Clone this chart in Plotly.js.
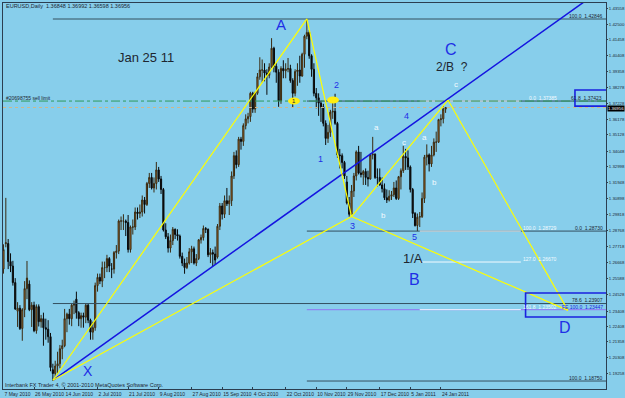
<!DOCTYPE html>
<html>
<head>
<meta charset="utf-8">
<script src="https://cdn.plot.ly/plotly-3.0.1.min.js"></script>
<style>html,body{margin:0;padding:0;background:#87ceeb;}#chart{width:625px;height:398px;}</style>
</head>
<body>
<div id="chart"></div>
<script>
// ---------- DATA ----------
const dates = [
"2010-05-07","2010-05-10","2010-05-11","2010-05-12","2010-05-13","2010-05-14","2010-05-17","2010-05-18","2010-05-19","2010-05-20","2010-05-21","2010-05-24","2010-05-25","2010-05-26","2010-05-27","2010-05-28","2010-05-31",
"2010-06-01","2010-06-02","2010-06-03","2010-06-04","2010-06-07","2010-06-08","2010-06-09","2010-06-10","2010-06-11","2010-06-14","2010-06-15","2010-06-16","2010-06-17","2010-06-18","2010-06-21","2010-06-22","2010-06-23","2010-06-24","2010-06-25","2010-06-28","2010-06-29","2010-06-30",
"2010-07-01","2010-07-02","2010-07-05","2010-07-06","2010-07-07","2010-07-08","2010-07-09","2010-07-12","2010-07-13","2010-07-14","2010-07-15","2010-07-16","2010-07-19","2010-07-20","2010-07-21","2010-07-22","2010-07-23","2010-07-26","2010-07-27","2010-07-28","2010-07-29","2010-07-30",
"2010-08-02","2010-08-03","2010-08-04","2010-08-05","2010-08-06","2010-08-09","2010-08-10","2010-08-11","2010-08-12","2010-08-13","2010-08-16","2010-08-17","2010-08-18","2010-08-19","2010-08-20","2010-08-23","2010-08-24","2010-08-25","2010-08-26","2010-08-27","2010-08-30","2010-08-31",
"2010-09-01","2010-09-02","2010-09-03","2010-09-06","2010-09-07","2010-09-08","2010-09-09","2010-09-10","2010-09-13","2010-09-14","2010-09-15","2010-09-16","2010-09-17","2010-09-20","2010-09-21","2010-09-22","2010-09-23","2010-09-24","2010-09-27","2010-09-28","2010-09-29","2010-09-30",
"2010-10-01","2010-10-04","2010-10-05","2010-10-06","2010-10-07","2010-10-08","2010-10-11","2010-10-12","2010-10-13","2010-10-14","2010-10-15","2010-10-18","2010-10-19","2010-10-20","2010-10-21","2010-10-22","2010-10-25","2010-10-26","2010-10-27","2010-10-28","2010-10-29",
"2010-11-01","2010-11-02","2010-11-03","2010-11-04","2010-11-05","2010-11-08","2010-11-09","2010-11-10","2010-11-11","2010-11-12","2010-11-15","2010-11-16","2010-11-17","2010-11-18","2010-11-19","2010-11-22","2010-11-23","2010-11-24","2010-11-25","2010-11-26","2010-11-29","2010-11-30",
"2010-12-01","2010-12-02","2010-12-03","2010-12-06","2010-12-07","2010-12-08","2010-12-09","2010-12-10","2010-12-13","2010-12-14","2010-12-15","2010-12-16","2010-12-17","2010-12-20","2010-12-21","2010-12-22","2010-12-23","2010-12-24","2010-12-27","2010-12-28","2010-12-29","2010-12-30","2010-12-31",
"2011-01-03","2011-01-04","2011-01-05","2011-01-06","2011-01-07","2011-01-10","2011-01-11","2011-01-12","2011-01-13","2011-01-14","2011-01-17","2011-01-18","2011-01-19","2011-01-20","2011-01-21","2011-01-24","2011-01-25","2011-01-26"
];
const openP = [
1.2620,1.2790,1.2790,1.2670,1.2640,1.2530,1.2340,1.2360,1.2225,1.2350,1.2490,1.2520,1.2350,1.2380,1.2210,1.2370,1.2270,
1.2290,1.2230,1.2220,1.2170,1.1950,1.1925,1.1975,1.1990,1.2090,1.2110,1.2290,1.2320,1.2290,1.2380,1.2420,1.2330,1.2290,1.2310,1.2300,1.2380,1.2280,1.2200,
1.2230,1.2510,1.2565,1.2540,1.2630,1.2630,1.2690,1.2620,1.2620,1.2730,1.2740,1.2940,1.2940,1.2940,1.2930,1.2750,1.2900,1.2900,1.3000,1.2990,1.3000,1.3080,
1.3050,1.3190,1.3230,1.3160,1.3190,1.3280,1.3220,1.3150,1.2880,1.2835,1.2760,1.2810,1.2885,1.2850,1.2840,1.2705,1.2660,1.2630,1.2660,1.2735,1.2755,1.2660,
1.2690,1.2815,1.2830,1.2890,1.2885,1.2715,1.2730,1.2720,1.2700,1.2905,1.3040,1.2985,1.3075,1.3055,1.3075,1.3240,1.3375,1.3315,1.3485,1.3470,1.3575,1.3620,
1.3635,1.3790,1.3685,1.3790,1.3900,1.3945,1.3945,1.3925,1.3910,1.3965,1.4090,1.3970,1.3930,1.3740,1.3955,1.3940,1.3950,1.3955,1.3875,1.3790,1.3935,
1.3945,1.3905,1.4050,1.4170,1.4195,1.4040,1.3950,1.3790,1.3760,1.3725,1.3700,1.3590,1.3490,1.3530,1.3665,1.3670,1.3590,1.3380,1.3375,1.3330,1.3200,1.3060,
1.2985,1.3140,1.3240,1.3400,1.3260,1.3250,1.3270,1.3230,1.3220,1.3380,1.3385,1.3230,1.3230,1.3180,1.3155,1.3095,1.3080,1.3105,1.3115,1.3160,1.3090,1.3235,1.3275,
1.3370,1.3360,1.3300,1.3150,1.2990,1.2910,1.2965,1.2970,1.3090,1.3365,1.3380,1.3320,1.3380,1.3465,1.3465,1.3615,1.3620,1.36848
];
const highP = [
1.2785,1.3094,1.2820,1.2725,1.2675,1.2560,1.2400,1.2380,1.2360,1.2540,1.2674,1.2545,1.2400,1.2403,1.2385,1.2385,1.2315,
1.2330,1.2290,1.2280,1.2195,1.1990,1.2010,1.2070,1.2115,1.2150,1.2355,1.2330,1.2355,1.2390,1.2410,1.2470,1.2340,1.2330,1.2330,1.2390,1.2390,1.2290,1.2270,
1.2530,1.2590,1.2590,1.2670,1.2670,1.2715,1.2700,1.2660,1.2740,1.2780,1.2950,1.2970,1.2985,1.2950,1.2980,1.2910,1.2950,1.3030,1.3030,1.3050,1.3110,1.3100,
1.3200,1.3260,1.3260,1.3230,1.3333,1.3300,1.3240,1.3160,1.2925,1.2860,1.2850,1.2900,1.2890,1.2885,1.2850,1.2730,1.2690,1.2700,1.2760,1.2775,1.2770,1.2720,
1.2820,1.2850,1.2910,1.2900,1.2890,1.2760,1.2750,1.2770,1.2920,1.3060,1.3060,1.3110,1.3160,1.3110,1.3270,1.3400,1.3410,1.3500,1.3500,1.3590,1.3650,1.3660,
1.3800,1.3800,1.3800,1.3925,1.4030,1.4015,1.3990,1.3950,1.3990,1.4157,1.4100,1.3990,1.3950,1.3970,1.4010,1.3990,1.4025,1.3980,1.3890,1.3950,1.3990,
1.4040,1.4060,1.4180,1.4282,1.4210,1.4050,1.3990,1.3825,1.3790,1.3740,1.3720,1.3610,1.3580,1.3680,1.3740,1.3787,1.3600,1.3420,1.3390,1.3340,1.3240,1.3100,
1.3180,1.3260,1.3410,1.3440,1.3400,1.3280,1.3290,1.3275,1.3390,1.3500,1.3390,1.3290,1.3290,1.3230,1.3190,1.3150,1.3145,1.3140,1.3200,1.3210,1.3240,1.3290,1.3440,
1.3420,1.3410,1.3310,1.3160,1.3000,1.2990,1.3000,1.3130,1.3380,1.3450,1.3390,1.3440,1.3490,1.3535,1.3620,1.3650,1.3705,1.36992
];
const lowP = [
1.2590,1.2765,1.2620,1.2600,1.2510,1.2348,1.2235,1.2215,1.2143,1.2300,1.2420,1.2340,1.2235,1.2200,1.2190,1.2238,1.2230,
1.2110,1.2150,1.2130,1.1940,1.1876,1.1900,1.1920,1.1960,1.2020,1.2100,1.2200,1.2250,1.2240,1.2320,1.2290,1.2240,1.2230,1.2230,1.2260,1.2260,1.2150,1.2150,
1.2210,1.2470,1.2520,1.2500,1.2560,1.2600,1.2600,1.2560,1.2590,1.2690,1.2720,1.2880,1.2880,1.2840,1.2730,1.2730,1.2850,1.2880,1.2950,1.2960,1.2970,1.2990,
1.3040,1.3160,1.3150,1.3130,1.3150,1.3200,1.3120,1.2870,1.2820,1.2730,1.2730,1.2780,1.2820,1.2810,1.2690,1.2640,1.2589,1.2620,1.2650,1.2660,1.2650,1.2640,
1.2680,1.2790,1.2810,1.2860,1.2700,1.2660,1.2640,1.2650,1.2690,1.2880,1.2950,1.2960,1.3040,1.2980,1.3040,1.3220,1.3290,1.3300,1.3415,1.3440,1.3550,1.3590,
1.3600,1.3660,1.3660,1.3780,1.3880,1.3860,1.3870,1.3780,1.3890,1.3960,1.3930,1.3860,1.3700,1.3720,1.3890,1.3890,1.3930,1.3860,1.3697,1.3770,1.3840,
1.3860,1.3900,1.3960,1.4150,1.4020,1.3900,1.3770,1.3690,1.3640,1.3600,1.3570,1.3446,1.3460,1.3500,1.3620,1.3580,1.3360,1.3290,1.3290,1.3220,1.3050,1.2969,
1.2980,1.3100,1.3210,1.3250,1.3230,1.3180,1.3180,1.3170,1.3215,1.3350,1.3220,1.3170,1.3175,1.3130,1.3080,1.3060,1.3070,1.3080,1.3100,1.3080,1.3080,1.3150,1.3260,
1.3280,1.3280,1.3130,1.2960,1.2903,1.2873,1.2900,1.2960,1.3060,1.3310,1.3270,1.3300,1.3370,1.3400,1.3460,1.3570,1.3590,1.36598
];
const closeP = [
1.2750,1.2795,1.2670,1.2640,1.2530,1.2355,1.2360,1.2225,1.2350,1.2490,1.2560,1.2350,1.2380,1.2210,1.2370,1.2270,1.2290,
1.2230,1.2220,1.2170,1.1965,1.1925,1.1975,1.1990,1.2090,1.2110,1.2290,1.2320,1.2290,1.2380,1.2390,1.2330,1.2290,1.2310,1.2300,1.2380,1.2280,1.2200,1.2230,
1.2510,1.2565,1.2540,1.2630,1.2630,1.2690,1.2640,1.2620,1.2730,1.2740,1.2940,1.2940,1.2940,1.2930,1.2750,1.2900,1.2900,1.3000,1.2990,1.3000,1.3080,1.3050,
1.3190,1.3230,1.3160,1.3190,1.3280,1.3220,1.3150,1.2880,1.2835,1.2760,1.2810,1.2885,1.2850,1.2840,1.2705,1.2660,1.2630,1.2660,1.2735,1.2755,1.2660,1.2690,
1.2815,1.2830,1.2890,1.2885,1.2715,1.2730,1.2720,1.2680,1.2905,1.3040,1.2985,1.3075,1.3055,1.3075,1.3240,1.3375,1.3315,1.3485,1.3470,1.3575,1.3620,1.3635,
1.3790,1.3685,1.3790,1.3900,1.3945,1.3945,1.3925,1.3910,1.3965,1.4090,1.3970,1.3930,1.3740,1.3955,1.3940,1.3950,1.3955,1.3875,1.3790,1.3935,1.3945,
1.3905,1.4050,1.4170,1.4195,1.4040,1.3950,1.3790,1.3760,1.3725,1.3700,1.3590,1.3490,1.3530,1.3665,1.3670,1.3590,1.3380,1.3375,1.3330,1.3240,1.3060,1.2985,
1.3140,1.3240,1.3400,1.3260,1.3250,1.3270,1.3230,1.3220,1.3380,1.3385,1.3230,1.3230,1.3180,1.3155,1.3095,1.3080,1.3105,1.3115,1.3160,1.3090,1.3235,1.3275,1.3370,
1.3360,1.3300,1.3150,1.2990,1.2910,1.2965,1.2970,1.3090,1.3365,1.3380,1.3320,1.3380,1.3465,1.3465,1.3615,1.3620,1.3685,1.36956
];

// Pattern points X, A, B(3), C, D
const patternNames  = ["X","A","B","C","D"];
const patternDates  = ["2010-06-07","2010-11-04","2010-12-01","2011-01-27","2011-04-08"];
const patternPrices = [1.1880, 1.4285, 1.2970, 1.3745, 1.2345];
// Blue trend line (from X, extended)
const trendDates  = ["2010-06-07","2011-04-20"];
const trendPrices = [1.1880, 1.4411];
// Fibonacci / level lines
const darkLevelPrices = [1.42846, 1.37385, 1.28730, 1.23907, 1.18750];
const darkLevelStart  = ["2010-06-07","2010-11-04","2010-11-04","2010-06-07","2010-11-04"];
const darkLevelLabels = ["100.0  1.42846","","0.0  1.28730","78.6  1.23907","100.0  1.18750"];
const feLevelPrice = 1.23500;
const feLevelLabel = "FE 100.0  1.23447";
const whiteLevelPrices = [1.37385, 1.28730, 1.26670, 1.23500];
const whiteLevelLabels = ["0.0  1.37385","100.0  1.28729","127.0  1.26670","161.8  1.23502"];
const whiteLevelRange  = ["2011-01-11","2011-03-11"];
const sellLimitPrice = 1.37385;
const sellLimitLabel = "#20698755 sell limit";
const bidPrice = 1.36956;
const boxUpper = {dates:["2011-04-13","2011-06-30"], prices:[1.3705, 1.3812], label:"61.8  1.37423"};
const boxLower = {dates:["2011-03-15","2011-06-30"], prices:[1.2301, 1.2461]};
// Axis ticks
const xTickDates  = ["2010-05-07","2010-05-26","2010-06-14","2010-07-02","2010-07-21","2010-08-09","2010-08-27","2010-09-15","2010-10-04","2010-10-22","2010-11-10","2010-11-29","2010-12-17","2011-01-05","2011-01-24"];
const xTickLabels = ["7 May 2010","26 May 2010","14 Jun 2010","2 Jul 2010","21 Jul 2010","9 Aug 2010","27 Aug 2010","15 Sep 2010","4 Oct 2010","22 Oct 2010","10 Nov 2010","29 Nov 2010","17 Dec 2010","5 Jan 2011","24 Jan 2011"];
const yTickVals = [1.43558,1.42500,1.41458,1.40408,1.39358,1.38278,1.37228,1.36178,1.35128,1.34048,1.32998,1.31948,1.30898,1.29818,1.28768,1.27718,1.26668,1.25588,1.24528,1.23408,1.22408,1.21358,1.20308,1.19258,1.18208];
const titleText = "EURUSD,Daily  1.36848 1.36992 1.36598 1.36956";

// ---------- LAYOUT HELPERS ----------
const L = 3, R = 606, T = 3, B = 389;
const PX = p => (p - L) / (R - L);
const PY = p => 1 - (p - T) / (B - T);
const SMALL = "Liberation Sans Narrow, Liberation Sans, Arial, sans-serif";
const BIG = "Liberation Sans, Arial, sans-serif";
const BLUE = "#1f2fe6", DARK = "#1c2733", WHITE = "#f4fbff", FRAME = "#2c3e50";
const FAR = "2011-06-30";

function ann(text, px, py, size, color, xanchor, family, extra) {
  return Object.assign({text, x: PX(px), y: PY(py), xref: "paper", yref: "paper",
    xanchor: xanchor || "center", yanchor: "middle", showarrow: false,
    font: {size, color, family: family || BIG}, borderpad: 0}, extra || {});
}
function seg(x0, y0, x1, y1, color, width, dash) {
  return {type: "line", xref: "x", yref: "y", x0, y0, x1, y1, line: {color, width, dash: dash || "solid"}};
}

const shapes = [];
darkLevelPrices.forEach((p, i) => shapes.push(seg(darkLevelStart[i], p, FAR, p, "#34505f", 1)));
shapes.push(seg("2010-11-04", feLevelPrice, FAR, feLevelPrice, "#8f86f2", 1.2));
whiteLevelPrices.forEach(p => shapes.push(seg(whiteLevelRange[0], p, whiteLevelRange[1], p, WHITE, 1)));
shapes.push({type:"line", xref:"paper", yref:"y", x0:0, x1:1, y0:sellLimitPrice, y1:sellLimitPrice, line:{color:"#2f9a5c", width:1, dash:"dashdot"}});
shapes.push({type:"line", xref:"paper", yref:"y", x0:0, x1:1, y0:bidPrice, y1:bidPrice, line:{color:"#cdb88c", width:1, dash:"dot"}});
shapes.push(seg(trendDates[0], trendPrices[0], trendDates[1], trendPrices[1], "#1414e0", 1.5));
[[0,1],[1,2],[0,2],[2,3],[3,4],[2,4]].forEach(([a,b]) =>
  shapes.push(seg(patternDates[a], patternPrices[a], patternDates[b], patternPrices[b], "#ffff00", 1.2)));
[boxUpper, boxLower].forEach(bx => shapes.push({type:"rect", xref:"x", yref:"y",
  x0: bx.dates[0], x1: bx.dates[1], y0: bx.prices[0], y1: bx.prices[1], line:{color:"#1a22e0", width:1.6}, fillcolor:"rgba(0,0,0,0)"}));
[[294,101],[333,100]].forEach(([cx,cy]) => shapes.push({type:"circle", xref:"paper", yref:"paper",
  x0:PX(cx-6), x1:PX(cx+6), y0:PY(cy+3.5), y1:PY(cy-3.5), fillcolor:"#ffee10", line:{width:0}}));

const annotations = [
  ann(titleText, 5, 6, 5.5, DARK, "left", SMALL),
  ann("Jan 25 11", 146, 57, 13, "#1e2630", "center", BIG),
  ann("A", 281, 25, 15, BLUE),
  ann("C", 451, 50, 16, BLUE),
  ann("2/B  ?", 452, 67, 12, "#1e2630"),
  ann("X", 88, 371, 14, BLUE),
  ann("B", 414, 279, 16, BLUE),
  ann("D", 565, 327, 16, BLUE),
  ann("1/A", 413, 258, 13, "#1e2630"),
  ann("1", 320, 159, 9, BLUE), ann("2", 336, 85, 9, BLUE), ann("3", 352, 226, 9, BLUE),
  ann("4", 406, 116, 9, BLUE), ann("5", 414, 237, 9, BLUE),
  ann("a", 377, 127, 8, WHITE), ann("a", 424, 137, 8, WHITE), ann("c", 404, 143, 8, WHITE),
  ann("b", 434, 182, 8, WHITE), ann("b", 383, 216, 8, WHITE), ann("c", 456, 85, 8, WHITE),
  ann("1", 294, 101, 6, DARK),
  ann(sellLimitLabel, 5, 98, 5, DARK, "left", SMALL),
  ann("Interbank FX Trader 4, © 2001-2010 MetaQuotes Software Corp.", 4, 385, 5.5, DARK, "left", SMALL),
  ann(darkLevelLabels[0], 604, 16, 5, DARK, "right", SMALL),
  ann(boxUpper.label, 603, 98, 5, DARK, "right", SMALL),
  ann(darkLevelLabels[2], 604, 228, 5, DARK, "right", SMALL),
  ann(darkLevelLabels[3], 604, 300, 5, DARK, "right", SMALL),
  ann(feLevelLabel, 604, 307, 5, "#1a22e0", "right", SMALL),
  ann(darkLevelLabels[4], 604, 378, 5, DARK, "right", SMALL),
  ann(whiteLevelLabels[0], 558, 98, 5, WHITE, "right", SMALL),
  ann(whiteLevelLabels[1], 558, 228, 5, WHITE, "right", SMALL),
  ann(whiteLevelLabels[2], 558, 259, 5, WHITE, "right", SMALL),
  ann(whiteLevelLabels[3], 558, 307, 5, WHITE, "right", SMALL),
  ann(bidPrice.toFixed(5), 607, 108, 4.3, "#ffffff", "left", SMALL, {bgcolor:"#000000"})
];

const trace = {
  type: "candlestick", x: dates, open: openP, high: highP, low: lowP, close: closeP,
  increasing: {line: {color: "#3a2a10", width: 1}, fillcolor: "#c47c30"},
  decreasing: {line: {color: "#0a0a0a", width: 1}, fillcolor: "#0a0a0a"},
  whiskerwidth: 0, hoverinfo: "skip", showlegend: false
};

const layout = {
  width: 625, height: 398,
  margin: {l: L, r: 625 - R, t: T, b: 398 - B, pad: 0},
  paper_bgcolor: "#87ceeb", plot_bgcolor: "#87ceeb",
  showlegend: false,
  xaxis: {
    type: "date", range: ["2010-05-06 19:12", "2011-05-02 04:48"],
    rangebreaks: [{bounds: ["sat", "mon"]}],
    rangeslider: {visible: false},
    showgrid: false, zeroline: false, showline: true, mirror: true, linecolor: FRAME, linewidth: 1,
    ticks: "inside", ticklen: 2, tickcolor: FRAME,
    tickmode: "array", tickvals: xTickDates, ticktext: xTickLabels,
    tickangle: 0, ticklabelposition: "outside right",
    tickfont: {size: 5, color: DARK, family: SMALL}
  },
  yaxis: {
    side: "right", range: [1.18219, 1.43911], fixedrange: true,
    showgrid: false, zeroline: false, showline: true, mirror: true, linecolor: FRAME, linewidth: 1,
    ticks: "outside", ticklen: 1, tickcolor: FRAME,
    tickmode: "array", tickvals: yTickVals, ticktext: yTickVals.map(v => v.toFixed(5)),
    tickfont: {size: 4.3, color: DARK, family: SMALL}
  },
  shapes, annotations
};

Plotly.newPlot("chart", [trace], layout, {staticPlot: true, displayModeBar: false});
</script>
</body>
</html>
